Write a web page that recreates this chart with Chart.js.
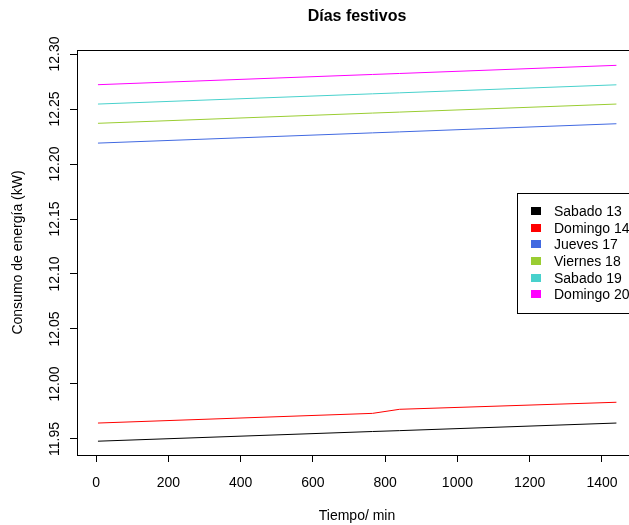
<!DOCTYPE html>
<html>
<head>
<meta charset="utf-8">
<script src="https://cdn.jsdelivr.net/npm/chart.js@4.4.0/dist/chart.umd.min.js"></script>
<style>
    html, body { margin: 0; padding: 0; background: #fff; overflow: hidden; }
</style>
</head>
<body>
<canvas id="grafico" width="660" height="525" style="width:660px;height:525px"></canvas>
<script>
// datos
const tiempos = [5, 765, 840, 1440];
const sabado13 = [11.9480, 11.9568, 11.9576, 11.9645];
const domingo14 = [11.9645, 11.9733, 11.9770, 11.9834];
const jueves17 = [12.2190, 12.2283, 12.2292, 12.2366];
const viernes18 = [12.2370, 12.2463, 12.2472, 12.2545];
const sabado19 = [12.2545, 12.2638, 12.2647, 12.2720];
const domingo20 = [12.2721, 12.2814, 12.2823, 12.2897];

const etiquetas = ['Sabado 13', 'Domingo 14', 'Jueves 17', 'Viernes 18', 'Sabado 19', 'Domingo 20'];
const colores = ['#000000', '#ff0000', '#4169e1', '#9acd32', '#48d1cc', '#ff00ff'];
const xTicks = [0, 200, 400, 600, 800, 1000, 1200, 1400];
const yTicks = [11.95, 12.00, 12.05, 12.10, 12.15, 12.20, 12.25, 12.30];

const fuente = '"Liberation Sans", Arial, Helvetica, sans-serif';

function puntos(valores) {
    return tiempos.map((t, i) => ({x: t, y: valores[i]}));
}

// caja, textos y leyenda al estilo de R
const dibujoR = {
    id: 'dibujoR',
    afterDraw(chart) {
        const ctx = chart.ctx;
        const a = chart.chartArea;
        const xs = chart.scales.x;
        const ys = chart.scales.y;
        ctx.save();
        ctx.strokeStyle = '#000';
        ctx.lineWidth = 1;
        ctx.strokeRect(a.left + 0.5, a.top + 0.5, a.right - a.left, a.bottom - a.top);

        ctx.fillStyle = '#000';
        ctx.font = '14px ' + fuente;
        ctx.textAlign = 'center';
        ctx.textBaseline = 'middle';
        xTicks.forEach(v => ctx.fillText(String(v), xs.getPixelForValue(v), 483));
        yTicks.forEach(v => {
            ctx.save();
            ctx.translate(55, ys.getPixelForValue(v));
            ctx.rotate(-Math.PI / 2);
            ctx.fillText(v.toFixed(2), 0, 0);
            ctx.restore();
        });

        // títulos de ejes
        ctx.fillText('Tiempo/ min', (a.left + a.right) / 2, 516);
        ctx.save();
        ctx.translate(18, (a.top + a.bottom) / 2);
        ctx.rotate(-Math.PI / 2);
        ctx.fillText('Consumo de energía (kW)', 0, 0);
        ctx.restore();

        // título
        ctx.font = 'bold 16px ' + fuente;
        ctx.fillText('Días festivos', (a.left + a.right) / 2, 17);

        // leyenda
        ctx.strokeRect(517.5, 193.5, 200, 120);
        ctx.font = '14px ' + fuente;
        ctx.textAlign = 'left';
        etiquetas.forEach((txt, i) => {
            const y = 211 + i * 16.67;
            ctx.fillStyle = colores[i];
            ctx.fillRect(531, Math.round(y - 4), 10, 8);
            ctx.fillStyle = '#000';
            ctx.fillText(txt, 554, y + 1);
        });
        ctx.restore();
    }
};

const conjuntos = [sabado13, domingo14, jueves17, viernes18, sabado19, domingo20].map((serie, i) => ({
    label: etiquetas[i],
    data: puntos(serie),
    borderColor: colores[i],
    backgroundColor: colores[i],
    borderWidth: 1,
    pointRadius: 0,
    tension: 0,
    fill: false
}));

new Chart(document.getElementById('grafico'), {
    type: 'line',
    data: {datasets: conjuntos},
    options: {
        responsive: false,
        animation: false,
        devicePixelRatio: 1,
        layout: {padding: {top: 50, right: 23, left: 0, bottom: 0}},
        plugins: {
            legend: {display: false},
            title: {display: false},
            tooltip: {enabled: false}
        },
        scales: {
            x: {
                type: 'linear',
                min: -53,
                max: 1497,
                afterBuildTicks: s => { s.ticks = xTicks.map(v => ({value: v})); },
                afterFit: s => { s.height = 70; },
                ticks: {display: false},
                grid: {drawOnChartArea: false, drawTicks: true, tickLength: 7, color: '#000'},
                border: {display: true, color: '#000'}
            },
            y: {
                type: 'linear',
                min: 11.93545,
                max: 12.30364,
                afterBuildTicks: s => { s.ticks = yTicks.map(v => ({value: v})); },
                afterFit: s => { s.width = 77; },
                ticks: {display: false},
                grid: {drawOnChartArea: false, drawTicks: true, tickLength: 7, color: '#000'},
                border: {display: true, color: '#000'}
            }
        }
    },
    plugins: [dibujoR]
});
</script>
</body>
</html>
